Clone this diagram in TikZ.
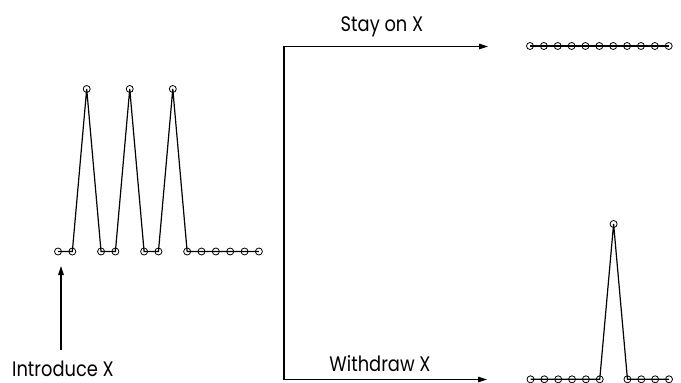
\documentclass[tikz,border=0pt]{standalone}
\usepackage{fontspec}
\setmainfont{Poppins}[FakeStretch=0.85]
\usetikzlibrary{arrows.meta}
\begin{document}
\begin{tikzpicture}[x=1pt,y=-1pt,
  dot/.style={circle,draw,minimum size=7pt,inner sep=0pt,line width=0.8pt},
  ln/.style={line width=1.2pt},
  arr/.style={line width=1.4pt,-{Triangle[length=9pt,width=5.5pt]}},
  lbl/.style={font=\fontsize{21}{24}\selectfont,inner sep=0pt,anchor=base}]
\useasboundingbox (0,0) rectangle (681,383);
% left chart
\foreach \k/\yy in {0/251.5,1/251.5,2/89,3/251.5,4/251.5,5/89,6/251.5,7/251.5,8/89,9/251.5,10/251.5,11/251.5,12/251.5,13/251.5,14/251.5}
  \node[dot] (L\k) at ({58+14.35*\k},\yy) {};
\draw[ln] (L0.center) \foreach \k in {1,...,14}{ -- (L\k.center)};
% top right chain
\foreach \k in {0,...,10}
  \node[dot] (T\k) at ({530+13.87*\k},46) {};
\draw[ln] (T0.center) \foreach \k in {1,...,10}{ -- (T\k.center)};
% bottom right chain
\foreach \k/\yy in {0/379.3,1/379.3,2/379.3,3/379.3,4/379.3,5/379.3,6/224,7/379.3,8/379.3,9/379.3,10/379.3}
  \node[dot] (B\k) at ({530.5+13.85*\k},\yy) {};
\draw[ln] (B0.center) \foreach \k in {1,...,10}{ -- (B\k.center)};
% branching connector
\coordinate (Jt) at (284,46.5);
\coordinate (Jb) at (284,379.5);
\coordinate (Ta) at (488,46.5);
\coordinate (Ba) at (487,379.5);
\draw[arr] (Jb) -- (Jt) -- (Ta);
\draw[arr] (Jt) -- (Jb) -- (Ba);
\node[lbl] (stay) at (382,31.5) {Stay on X};
\node[lbl] (withdraw) at (380,371.5) {Withdraw X};
% introduce
\node[lbl] (intro) at (63,376.3) {Introduce X};
\coordinate (Ia) at (61,350);
\coordinate (Ib) at (61,266);
\draw[arr] (Ia) -- (Ib);
\end{tikzpicture}
\end{document}
